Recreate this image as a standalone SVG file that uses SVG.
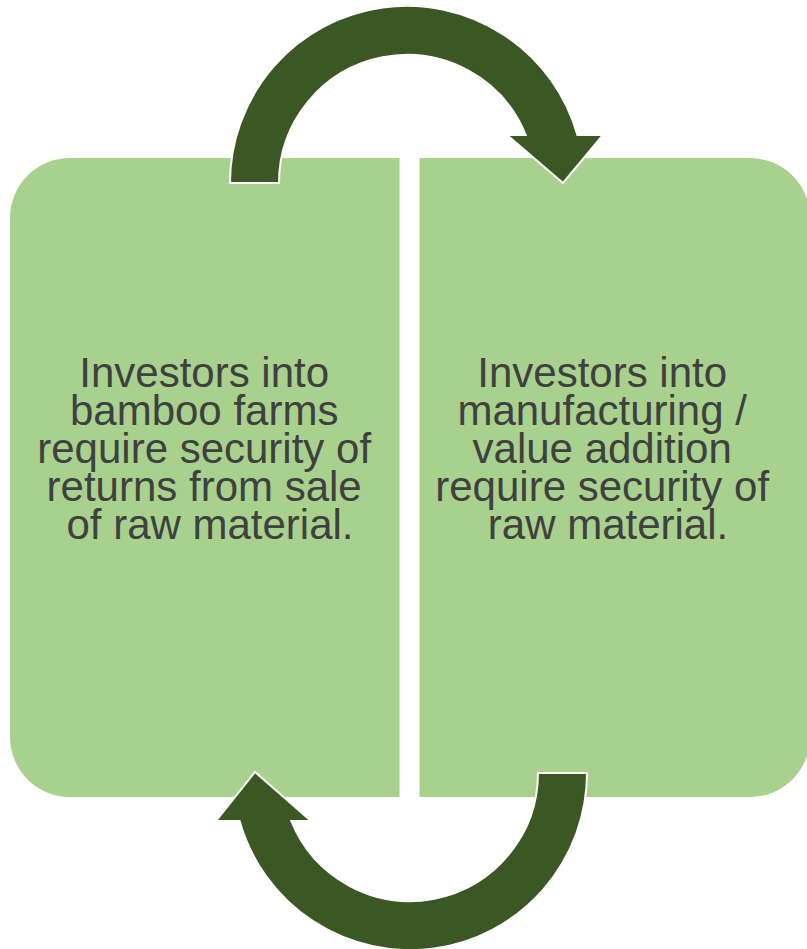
<svg xmlns="http://www.w3.org/2000/svg" width="807" height="949" viewBox="0 0 807 949">
  <style>
    .box { fill: #A9D18E; }
    .label { font-family: "Liberation Sans", Arial, Helvetica, sans-serif; font-size: 42px; fill: #404040; text-anchor: middle; }
    .cycle-arrow { fill: #3A5724; stroke: #FFFFFF; stroke-width: 2; stroke-linejoin: miter; }
  </style>

  <!-- Left panel: farm investors (rounded on the outer corners only) -->
  <g id="node-farms">
    <path class="box" d="M 399.5 158 L 399.5 797 L 70 797 A 60 60 0 0 1 10 737 L 10 218 A 60 60 0 0 1 70 158 Z"/>
    <text class="label">
      <tspan x="210" y="387">Investors into</tspan>
      <tspan x="210" y="425">bamboo farms</tspan>
      <tspan x="210" y="463">require security of</tspan>
      <tspan x="210" y="501">returns from sale</tspan>
      <tspan x="210" y="539">of raw material.</tspan>
    </text>
  </g>

  <!-- Right panel: manufacturing investors -->
  <g id="node-manufacturing">
    <path class="box" d="M 419.5 158 L 750 158 A 60 60 0 0 1 810 218 L 810 737 A 60 60 0 0 1 750 797 L 419.5 797 Z"/>
    <text class="label">
      <tspan x="608" y="387">Investors into</tspan>
      <tspan x="608" y="425">manufacturing /</tspan>
      <tspan x="608" y="463">value addition</tspan>
      <tspan x="608" y="501">require security of</tspan>
      <tspan x="608" y="539">raw material.</tspan>
    </text>
  </g>

  <!-- Curved arrows closing the cycle between the two panels -->
  <g id="connectors">
    <path class="cycle-arrow" d="M 230 183 A 177 177 0 0 1 577.4 135 L 603 135 L 563 183 L 507 135 L 525.7 135 A 128 128 0 0 0 279 183 Z"/>
    <path class="cycle-arrow" d="M 587 773 A 177 177 0 0 1 239.6 821 L 216 821 L 255 772 L 311 821 L 291.3 821 A 128 128 0 0 0 538 773 Z"/>
  </g>
</svg>
